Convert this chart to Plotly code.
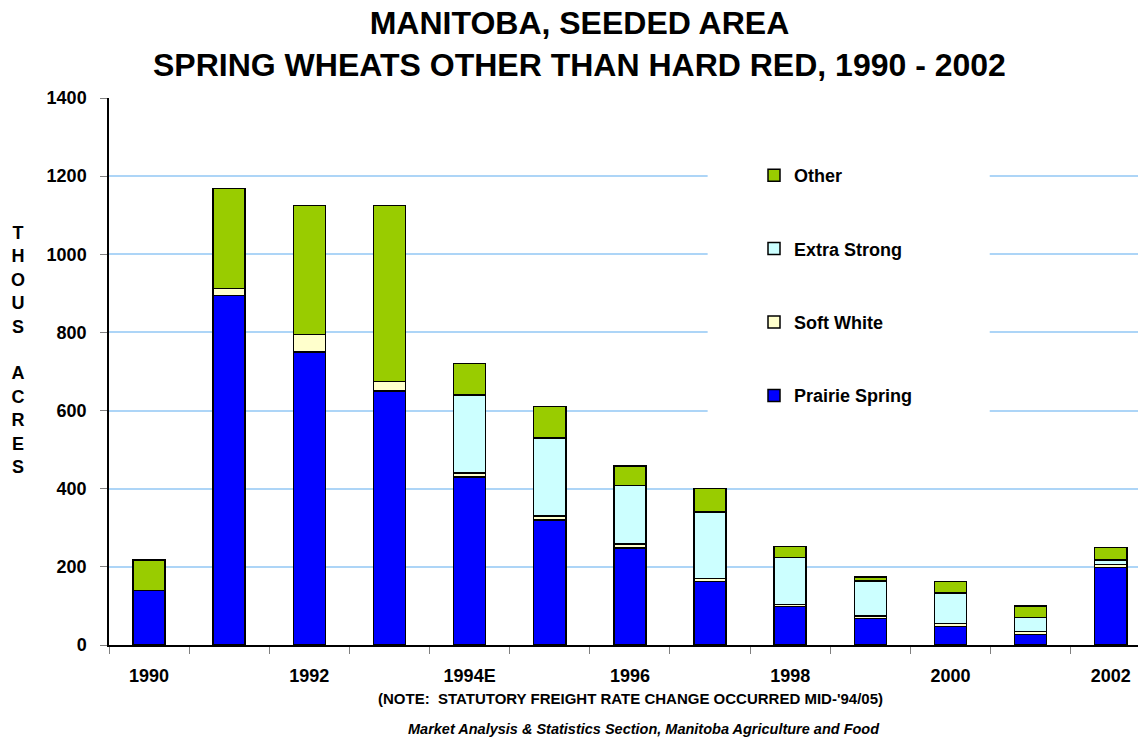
import plotly.graph_objects as go

categories = ["1990", "1991", "1992", "1993", "1994E", "1995", "1996",
              "1997", "1998", "1999", "2000", "2001", "2002"]
tick_labels = ["1990", "", "1992", "", "1994E", "", "1996", "", "1998", "", "2000", "", "2002"]

prairie_spring = [140, 895, 750, 650, 430, 320, 248, 163, 98, 68, 47, 27, 198]
soft_white     = [0, 18, 45, 25, 10, 10, 10, 7, 6, 6, 8, 8, 8]
extra_strong   = [0, 0, 0, 0, 200, 200, 150, 170, 120, 90, 78, 35, 12]
other          = [78, 255, 330, 450, 80, 80, 50, 60, 28, 10, 30, 30, 32]

series = [
    ("Prairie Spring", prairie_spring, "#0000FF", 4),
    ("Soft White", soft_white, "#FFFFCC", 3),
    ("Extra Strong", extra_strong, "#CCFFFF", 2),
    ("Other", other, "#99CC00", 1),
]

FONT = "Liberation Sans, Arial, sans-serif"

# page has an 8px body margin; figure is sized so it ends at the window edge
W, H = 1138, 730
ML, MR, MT, MB = 101, 0, 90, 93
PW, PH = W - ML - MR, H - MT - MB


def px(sx):  # screen x -> plot-area fraction
    return (sx - 8 - ML) / PW


def py(sy):  # screen y -> plot-area fraction
    return (H - MB - (sy - 8)) / PH


fig = go.Figure()
for name, vals, color, rank in series:
    fig.add_trace(go.Bar(
        x=categories, y=vals, name=name, legendgroup=name, legendrank=rank,
        marker=dict(color=color, line=dict(color="black", width=1.5)),
        width=0.4,
    ))

fig.update_layout(
    barmode="stack",
    width=W, height=H, autosize=False,
    margin=dict(l=ML, r=MR, t=MT, b=MB),
    paper_bgcolor="white", plot_bgcolor="white",
    font=dict(family=FONT, color="black"),
    legend=dict(
        x=px(754), y=py(157), xanchor="left", yanchor="top",
        traceorder="grouped", tracegroupgap=47,
        font=dict(family=FONT, size=18, weight="bold", color="black"),
        bgcolor="rgba(0,0,0,0)",
    ),
    xaxis=dict(
        type="category", range=[-0.5, 12.44],
        tickmode="array", tickvals=categories, ticktext=tick_labels,
        tickson="boundaries", ticks="outside", ticklen=7, tickcolor="#808080",
        showline=True, linecolor="black", linewidth=1.5,
        tickfont=dict(family=FONT, size=18, weight="bold", color="black"),
        ticklabelstandoff=14, showgrid=False,
    ),
    yaxis=dict(
        range=[0, 1400], dtick=200, tick0=0,
        ticks="outside", ticklen=7, tickcolor="#808080",
        showline=True, linecolor="black", linewidth=1.5,
        showgrid=True, gridcolor="#ADD5F7", gridwidth=2,
        tickfont=dict(family=FONT, size=18, weight="bold", color="black"),
        ticklabelstandoff=10, zeroline=False,
    ),
    shapes=[dict(
        type="rect", xref="x", yref="y",
        x0=6.97, x1=10.49, y0=550, y1=1290,
        fillcolor="white", line=dict(width=0), layer="above",
    )],
    annotations=[
        dict(text="MANITOBA, SEEDED AREA<br>SPRING WHEATS OTHER THAN HARD RED, 1990 - 2002",
             xref="paper", yref="paper", x=px(579), y=py(43.5),
             xanchor="center", yanchor="middle", showarrow=False,
             font=dict(family=FONT, size=32, weight="bold", color="black")),
        dict(text="T<br>H<br>O<br>U<br>S<br><br>A<br>C<br>R<br>E<br>S",
             xref="paper", yref="paper", x=px(18), y=py(350),
             xanchor="center", yanchor="middle", showarrow=False,
             font=dict(family=FONT, size=18, weight="bold", color="black")),
        dict(text="(NOTE:  STATUTORY FREIGHT RATE CHANGE OCCURRED MID-'94/05)",
             xref="paper", yref="paper", x=px(630), y=py(698),
             xanchor="center", yanchor="middle", showarrow=False,
             font=dict(family=FONT, size=15, weight="bold", color="black")),
        dict(text="Market Analysis & Statistics Section, Manitoba Agriculture and Food",
             xref="paper", yref="paper", x=px(644), y=py(729),
             xanchor="center", yanchor="middle", showarrow=False,
             font=dict(family=FONT, size=14.5, weight="bold", style="italic", color="black")),
    ],
)

fig.write_html("out.html")
